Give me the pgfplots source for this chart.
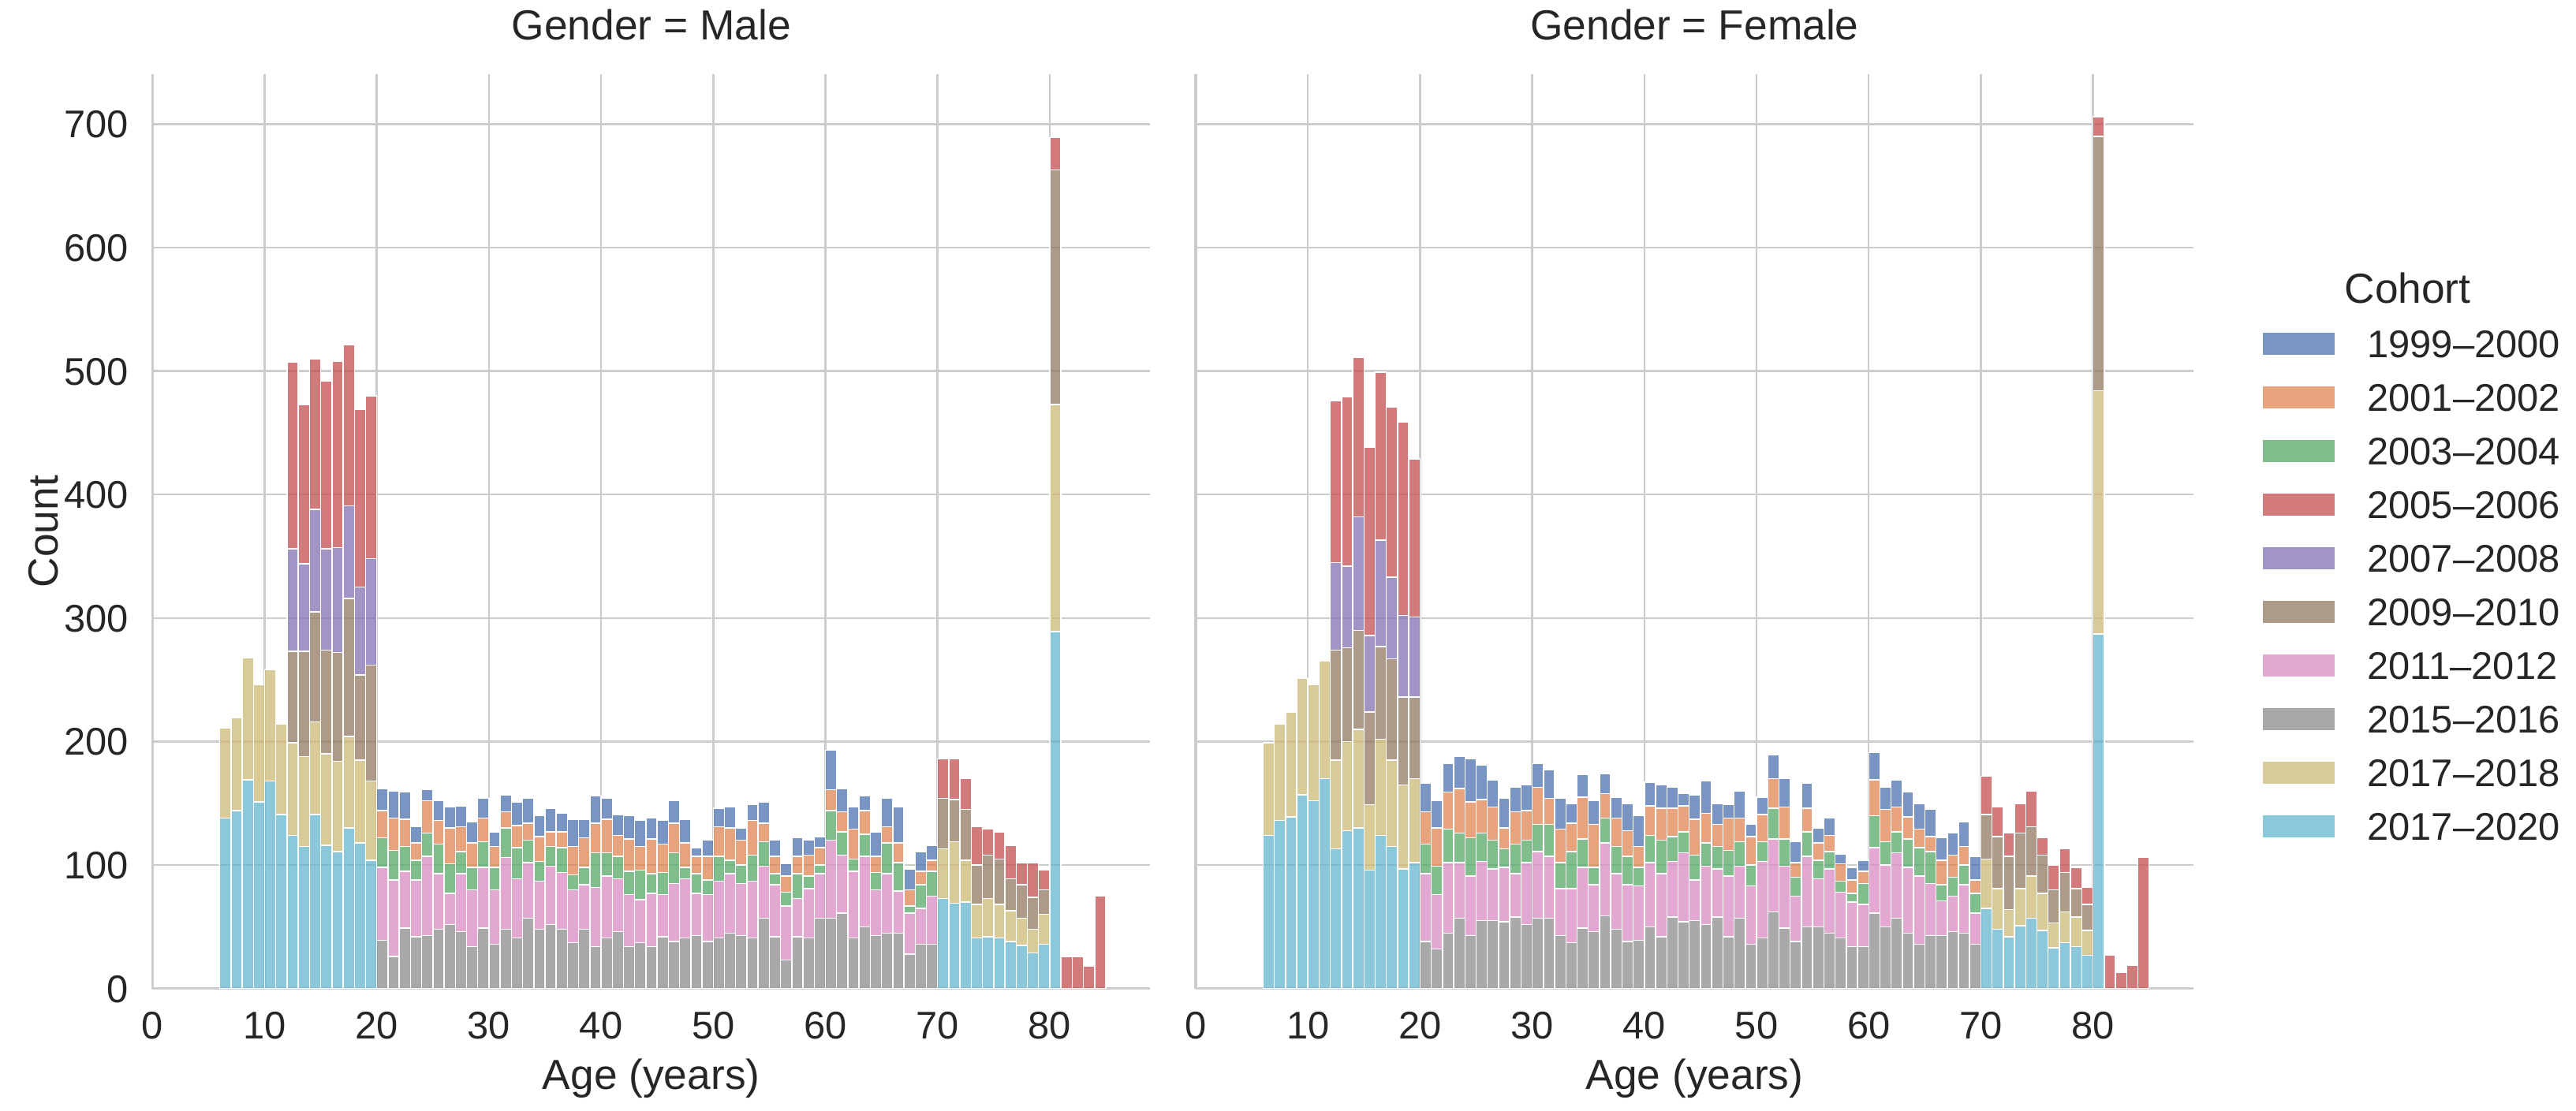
\documentclass[border=0pt]{standalone}
\usepackage{fontspec}
\setmainfont{Liberation Sans}
\usepackage{pgfplots}
\usepackage{pgfplotstable}
\pgfplotsset{compat=1.18}

\definecolor{c99}{HTML}{4C72B0}
\definecolor{c01}{HTML}{DD8452}
\definecolor{c03}{HTML}{55A868}
\definecolor{c05}{HTML}{C44E52}
\definecolor{c07}{HTML}{8172B3}
\definecolor{c09}{HTML}{937860}
\definecolor{c11}{HTML}{DA8BC3}
\definecolor{c15}{HTML}{8C8C8C}
\definecolor{c18}{HTML}{CCB974}
\definecolor{c20}{HTML}{64B5CD}
\definecolor{gridgray}{HTML}{CCCCCC}
\definecolor{textgray}{HTML}{262626}

\pgfplotstableread{
age c20 c18 c15 c11 c09 c07 c05 c03 c01 c99
6 138 73 0 0 0 0 0 0 0 0
7 144 75 0 0 0 0 0 0 0 0
8 169 99 0 0 0 0 0 0 0 0
9 151 95 0 0 0 0 0 0 0 0
10 168 90 0 0 0 0 0 0 0 0
11 141 73 0 0 0 0 0 0 0 0
12 124 75 0 0 74 83 151 0 0 0
13 115 73 0 0 85 71 129 0 0 0
14 141 75 0 0 89 83 122 0 0 0
15 116 74 0 0 84 82 136 0 0 0
16 111 73 0 0 88 85 151 0 0 0
17 130 74 0 0 112 75 130 0 0 0
18 118 67 0 0 69 71 144 0 0 0
19 104 64 0 0 94 86 132 0 0 0
20 0 0 39 59 0 0 0 24 22 18
21 0 0 26 62 0 0 0 24 26 22
22 0 0 49 46 0 0 0 20 22 22
23 0 0 42 46 0 0 0 16 14 13
24 0 0 43 64 0 0 0 19 26 9
25 0 0 48 45 0 0 0 24 19 16
26 0 0 52 25 0 0 0 24 29 17
27 0 0 46 47 0 0 0 18 20 17
28 0 0 34 46 0 0 0 18 20 17
29 0 0 49 49 0 0 0 21 19 16
30 0 0 36 44 0 0 0 18 17 12
31 0 0 48 58 0 0 0 24 13 14
32 0 0 41 48 0 0 0 25 18 19
33 0 0 57 45 0 0 0 18 14 20
34 0 0 48 39 0 0 0 16 20 17
35 0 0 52 47 0 0 0 16 12 19
36 0 0 48 46 0 0 0 20 13 15
37 0 0 37 43 0 0 0 12 23 22
38 0 0 48 36 0 0 0 14 24 15
39 0 0 34 48 0 0 0 28 24 22
40 0 0 41 50 0 0 0 19 27 17
41 0 0 46 43 0 0 0 18 17 17
42 0 0 34 42 0 0 0 19 26 19
43 0 0 37 35 0 0 0 24 19 21
44 0 0 34 43 0 0 0 16 28 17
45 0 0 42 34 0 0 0 18 23 19
46 0 0 38 47 0 0 0 25 24 18
47 0 0 41 48 0 0 0 9 20 19
48 0 0 43 34 0 0 0 16 14 7
49 0 0 38 38 0 0 0 12 19 13
50 0 0 41 46 0 0 0 20 24 15
51 0 0 45 48 0 0 0 11 26 17
52 0 0 43 42 0 0 0 15 20 10
53 0 0 41 46 0 0 0 21 28 13
54 0 0 57 42 0 0 0 20 15 17
55 0 0 42 42 0 0 0 9 14 13
56 0 0 23 44 0 0 0 11 13 10
57 0 0 42 31 0 0 0 20 14 15
58 0 0 41 40 0 0 0 10 17 12
59 0 0 57 36 0 0 0 7 14 9
60 0 0 57 63 0 0 0 24 17 32
61 0 0 61 47 0 0 0 19 16 19
62 0 0 41 54 0 0 0 10 24 18
63 0 0 50 57 0 0 0 18 19 12
64 0 0 43 37 0 0 0 14 13 20
65 0 0 45 48 0 0 0 25 13 23
66 0 0 45 34 0 0 0 23 16 29
67 0 0 28 33 0 0 0 6 13 17
68 0 0 36 29 0 0 0 19 11 16
69 0 0 36 39 0 0 0 20 9 12
70 73 40 0 0 41 0 32 0 0 0
71 69 50 0 0 34 0 33 0 0 0
72 70 34 0 0 41 0 25 0 0 0
73 41 27 0 0 32 0 31 0 0 0
74 42 31 0 0 35 0 21 0 0 0
75 41 27 0 0 37 0 22 0 0 0
76 38 25 0 0 26 0 27 0 0 0
77 35 22 0 0 27 0 18 0 0 0
78 29 19 0 0 26 0 28 0 0 0
79 36 24 0 0 20 0 16 0 0 0
80 289 184 0 0 190 0 26 0 0 0
81 0 0 0 0 0 0 26 0 0 0
82 0 0 0 0 0 0 26 0 0 0
83 0 0 0 0 0 0 18 0 0 0
84 0 0 0 0 0 0 75 0 0 0
}\male

\pgfplotstableread{
age c20 c18 c15 c11 c09 c07 c05 c03 c01 c99
6 124 75 0 0 0 0 0 0 0 0
7 136 78 0 0 0 0 0 0 0 0
8 139 85 0 0 0 0 0 0 0 0
9 157 94 0 0 0 0 0 0 0 0
10 152 94 0 0 0 0 0 0 0 0
11 170 95 0 0 0 0 0 0 0 0
12 113 72 0 0 89 71 131 0 0 0
13 128 72 0 0 76 66 137 0 0 0
14 130 80 0 0 80 92 129 0 0 0
15 96 53 0 0 75 62 152 0 0 0
16 124 78 0 0 75 86 136 0 0 0
17 115 70 0 0 82 66 138 0 0 0
18 97 68 0 0 71 66 157 0 0 0
19 102 68 0 0 66 65 128 0 0 0
20 0 0 38 55 0 0 0 24 26 23
21 0 0 32 44 0 0 0 23 31 22
22 0 0 45 57 0 0 0 27 30 23
23 0 0 57 45 0 0 0 24 36 26
24 0 0 43 48 0 0 0 31 29 35
25 0 0 55 48 0 0 0 23 27 28
26 0 0 55 42 0 0 0 23 27 22
27 0 0 54 44 0 0 0 15 17 24
28 0 0 58 35 0 0 0 24 26 20
29 0 0 52 50 0 0 0 18 24 21
30 0 0 57 54 0 0 0 22 30 19
31 0 0 57 50 0 0 0 26 21 23
32 0 0 43 38 0 0 0 21 27 25
33 0 0 37 44 0 0 0 30 23 16
34 0 0 49 49 0 0 0 23 34 18
35 0 0 46 38 0 0 0 14 35 19
36 0 0 59 59 0 0 0 20 20 16
37 0 0 48 45 0 0 0 22 23 17
38 0 0 38 46 0 0 0 23 21 22
39 0 0 39 44 0 0 0 15 17 25
40 0 0 50 52 0 0 0 22 24 19
41 0 0 42 51 0 0 0 27 26 19
42 0 0 58 45 0 0 0 20 23 17
43 0 0 54 56 0 0 0 17 21 10
44 0 0 55 33 0 0 0 20 29 20
45 0 0 52 47 0 0 0 19 24 26
46 0 0 58 39 0 0 0 18 18 17
47 0 0 42 49 0 0 0 21 26 11
48 0 0 57 42 0 0 0 20 19 22
49 0 0 36 47 0 0 0 17 23 10
50 0 0 41 62 0 0 0 16 22 14
51 0 0 62 59 0 0 0 25 24 19
52 0 0 49 50 0 0 0 22 26 23
53 0 0 38 37 0 0 0 15 12 17
54 0 0 50 57 0 0 0 20 19 20
55 0 0 50 39 0 0 0 15 14 12
56 0 0 45 52 0 0 0 14 13 14
57 0 0 41 37 0 0 0 9 14 8
58 0 0 34 36 0 0 0 7 11 10
59 0 0 34 34 0 0 0 17 10 9
60 0 0 61 53 0 0 0 26 29 22
61 0 0 50 50 0 0 0 19 26 18
62 0 0 57 53 0 0 0 17 20 22
63 0 0 45 53 0 0 0 23 18 20
64 0 0 36 55 0 0 0 23 15 21
65 0 0 43 42 0 0 0 26 12 22
66 0 0 43 28 0 0 0 13 20 18
67 0 0 46 29 0 0 0 15 18 18
68 0 0 45 39 0 0 0 16 15 20
69 0 0 36 25 0 0 0 16 11 19
70 65 40 0 0 36 0 31 0 0 0
71 48 33 0 0 42 0 24 0 0 0
72 42 22 0 0 43 0 19 0 0 0
73 51 30 0 0 45 0 24 0 0 0
74 57 34 0 0 40 0 29 0 0 0
75 47 30 0 0 31 0 14 0 0 0
76 33 20 0 0 27 0 20 0 0 0
77 37 25 0 0 32 0 19 0 0 0
78 34 24 0 0 23 0 17 0 0 0
79 27 20 0 0 21 0 14 0 0 0
80 287 197 0 0 206 0 16 0 0 0
81 0 0 0 0 0 0 27 0 0 0
82 0 0 0 0 0 0 13 0 0 0
83 0 0 0 0 0 0 19 0 0 0
84 0 0 0 0 0 0 106 0 0 0
}\female

\pgfplotsset{
  facet/.style={
    scale only axis, width=303.57bp, height=278.24bp,
    xmin=0, xmax=88.95, ymin=0, ymax=740.25,
    axis x line*=bottom, axis y line*=left,
    axis line style={draw=gridgray, line width=0.85bp, -},
    xtick={0,10,...,80}, ytick={0,100,...,700},
    major tick length=0pt,
    grid=major, major grid style={draw=gridgray, line width=0.6bp},
    ybar stacked, bar width=1, stacked ignores zero,
    /pgf/number format/assume math mode=true,
    tick label style={font=\fontsize{11.73bp}{14bp}\selectfont, text=textgray, inner sep=0pt},
    xticklabel style={anchor=base, yshift=-15.3bp},
    yticklabel style={anchor=base east, xshift=-7.1bp, yshift=-4.2bp},
    label style={font=\fontsize{12.8bp}{15bp}\selectfont, text=textgray, inner sep=0pt},
    xlabel={Age (years)},
    xlabel style={at={(axis description cs:0.5,0)}, anchor=base, yshift=-30.6bp},
    title style={font=\fontsize{12.8bp}{15bp}\selectfont, text=textgray, inner sep=0pt,
      at={(axis description cs:0.5,1.0167)}, anchor=base},
    every axis plot/.append style={fill opacity=0.75, draw=white, line width=0.35bp},
  },
}

\newcommand{\stackall}[1]{%
  \addplot[fill=c20] table[x expr=\thisrow{age}+0.5, y=c20] {#1};
  \addplot[fill=c18] table[x expr=\thisrow{age}+0.5, y=c18] {#1};
  \addplot[fill=c15] table[x expr=\thisrow{age}+0.5, y=c15] {#1};
  \addplot[fill=c11] table[x expr=\thisrow{age}+0.5, y=c11] {#1};
  \addplot[fill=c09] table[x expr=\thisrow{age}+0.5, y=c09] {#1};
  \addplot[fill=c07] table[x expr=\thisrow{age}+0.5, y=c07] {#1};
  \addplot[fill=c05] table[x expr=\thisrow{age}+0.5, y=c05] {#1};
  \addplot[fill=c03] table[x expr=\thisrow{age}+0.5, y=c03] {#1};
  \addplot[fill=c01] table[x expr=\thisrow{age}+0.5, y=c01] {#1};
  \addplot[fill=c99] table[x expr=\thisrow{age}+0.5, y=c99] {#1};
}

\begin{document}
\begin{tikzpicture}
\path[use as bounding box] (0,0) rectangle (783.84bp,337.92bp);

\begin{axis}[facet, at={(46.39bp,37.03bp)}, anchor=south west,
  title={Gender = Male},
  ylabel={Count},
  ylabel style={at={(axis description cs:-0.0951,0.5)}, anchor=base},
]
\stackall{\male}
\end{axis}

\begin{axis}[facet, at={(363.84bp,37.03bp)}, anchor=south west,
  title={Gender = Female},
  yticklabels={},
  reverse legend,
  legend cell align=left,
  legend image code/.code={\fill[#1] (0bp,0.6bp) rectangle (22.3bp,7.8bp);},
  legend style={at={(axis description cs:1.0681,0.7206)}, anchor=north west,
    draw=none, fill=none, inner sep=0pt, outer sep=0pt,
    row sep=7.92bp, column sep=9.6bp,
    font=\fontsize{11.73bp}{14bp}\selectfont, text=textgray,
    nodes={inner sep=0pt, text height=8.4bp, text depth=0pt, anchor=base west}},
]
\stackall{\female}
\legend{2017--2020,2017--2018,2015--2016,2011--2012,2009--2010,2007--2008,2005--2006,2003--2004,2001--2002,1999--2000}
\end{axis}

\node[anchor=base, inner sep=0pt, text=textgray, font=\fontsize{12.8bp}{15bp}\selectfont]
  at (732.6bp,245.52bp) {Cohort};
\end{tikzpicture}
\end{document}
